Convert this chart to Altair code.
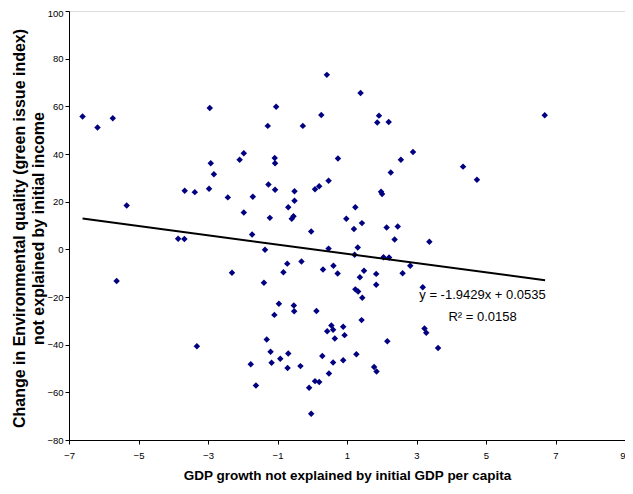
import altair as alt
import pandas as pd

# Scatter points (x: GDP growth residual, y: environmental quality change residual)
xs = [-6.61, -6.18, -5.74, -5.34, -3.67, -3.38, -2.95, -2.92, -2.83, -2.97,
      -2.43, -2.09, -1.97, -1.71, -1.97, -1.28, -1.04, -1.26, -1.08, -1.07,
      -1.07, -1.22, -0.27, 0.26, 0.42, 0.74, -0.51, -0.51, -0.69, -0.54,
      -0.59, 0.08, 0.20, 0.47, 0.98, 1.39, 1.92, 1.87, 2.20, 2.55,
      2.90, 2.26, 4.34, 4.74, 6.69, 1.98, 2.01, 1.24,
      -3.86, -3.68, -5.63, -3.32, -2.31, -1.73, -1.36, -1.39, -0.72, -0.83,
      -0.31, -0.03, 0.47, 0.31, 0.61, 0.73, -0.96, -0.53, -0.52, -1.09,
      0.12, -1.31, -1.20, -1.17, -0.92, -0.69, -0.71, -0.34, -1.77, -1.62,
      -0.09, 0.08, 0.20, -0.03, 0.43, 0.55, 0.60, 0.65, 0.29, 0.48,
      0.60, 0.89, 0.93, 0.89,
      1.20, 1.43, 2.14, 2.46, 2.37, 3.37, 1.31, 1.22, 2.05, 2.21,
      2.82, 2.60, 1.49, 1.37, 1.84, 1.84, 3.18, 1.24, 1.32, 1.44,
      1.42, 3.23, 3.28, 3.62, 2.16, 1.27, 1.78, 1.85]
ys = [55.7, 51.1, 55.0, 18.4, 24.6, 24.0, 59.3, 36.1, 31.5, 25.4,
      21.8, 37.6, 40.3, 22.1, 15.5, 51.8, 59.8, 27.2, 38.3, 36.1,
      25.0, 13.2, 51.8, 56.4, 73.2, 38.1, 24.4, 20.4, 17.7, 13.9,
      12.8, 25.2, 26.5, 28.8, 12.8, 65.6, 56.1, 53.2, 53.4, 37.6,
      40.8, 32.2, 34.7, 29.2, 56.3, 24.2, 23.2, 17.7,
      4.4, 4.3, -13.3, -40.7, -9.8, 6.2, -0.2, -14.0, -6.0, -9.6,
      -5.1, 7.5, 0.3, -8.5, -6.9, -10.1, -22.8, -23.6, -26.0, -27.5,
      -25.9, -37.8, -43.0, -47.6, -45.9, -43.7, -49.8, -49.0, -48.2, -57.1,
      -58.1, -55.3, -55.7, -69.0, -34.4, -32.0, -33.7, -37.4, -44.8, -52.1,
      -47.5, -32.5, -36.0, -46.5,
      8.5, 11.0, 9.2, 9.6, 4.1, 3.2, 0.8, -2.3, -3.3, -3.4,
      -6.9, -10.0, -9.0, -11.7, -10.3, -14.9, -15.9, -16.8, -17.7, -20.3,
      -29.7, -33.2, -35.0, -41.4, -38.6, -44.0, -49.4, -51.3]

# Linear trend line (as labelled on the chart)
slope = -1.9429
intercept = 0.0535
trend_x = [-6.61, 6.70]
trend_y = [slope * v + intercept for v in trend_x]

# Equation labels
label_text = ["y = -1.9429x + 0.0535", "R\u00b2 = 0.0158"]
label_x = [4.9, 4.9]
label_y = [-19.2, -28.4]

x_ticks = [-7, -5, -3, -1, 1, 3, 5, 7, 9]
y_ticks = [-80, -60, -40, -20, 0, 20, 40, 60, 80, 100]

pts = pd.DataFrame({"x": xs, "y": ys})
trend = pd.DataFrame({"x": trend_x, "y": trend_y})
labels = pd.DataFrame({"x": label_x, "y": label_y, "t": label_text})

FONT = "Liberation Sans"

xscale = alt.Scale(domain=[-7, 9], nice=False, zero=False)
yscale = alt.Scale(domain=[-80, 100], nice=False, zero=False)

xaxis = alt.Axis(values=x_ticks, title="GDP growth not explained by initial GDP per capita",
                 grid=False, tickSize=4, tickColor="black", domainColor="black",
                 labelFont=FONT, labelFontSize=9.5, labelColor="black", labelPadding=6,
                 labelAlign=alt.condition("datum.value >= 9", alt.value("right"), alt.value("center")),
                 titleFont=FONT, titleFontSize=13.5, titleFontWeight="bold", titleColor="black",
                 titlePadding=9, labelFlush=False)
yaxis = alt.Axis(values=y_ticks, title=["Change in Environmental quality (green issue index)",
                                        "not explained by initial income"],
                 grid=False, tickSize=4, tickColor="black", domainColor="black",
                 labelFont=FONT, labelFontSize=9.5, labelColor="black", labelPadding=2,
                 labelOffset=alt.condition("datum.value >= 100", alt.value(2), alt.value(0)),
                 titleFont=FONT, titleFontSize=16, titleFontWeight="bold", titleColor="black",
                 titleX=-58, titleY=217, titleAngle=-90, titleAlign="center",
                 titleBaseline="top", titleLineHeight=19, labelFlush=False)

points = alt.Chart(pts).mark_point(shape="diamond", filled=True, size=42,
                                   color="#000080", opacity=1).encode(
    x=alt.X("x:Q", scale=xscale, axis=xaxis),
    y=alt.Y("y:Q", scale=yscale, axis=yaxis),
)

line = alt.Chart(trend).mark_line(color="black", strokeWidth=2).encode(
    x=alt.X("x:Q", scale=xscale),
    y=alt.Y("y:Q", scale=yscale),
)

text = alt.Chart(labels).mark_text(font=FONT, fontSize=13, color="black",
                                   align="center", baseline="middle").encode(
    x=alt.X("x:Q", scale=xscale),
    y=alt.Y("y:Q", scale=yscale),
    text="t:N",
)

chart = alt.layer(points, line, text).properties(
    width=556, height=429,
    autosize=alt.AutoSizeParams(type="none"),
    padding={"left": 61, "top": 3, "right": 0, "bottom": 46},
).configure_view(
    stroke="#808080", strokeWidth=1
).configure(background="white")

chart.save("out.html", embed_options={"renderer": "svg", "actions": False})
